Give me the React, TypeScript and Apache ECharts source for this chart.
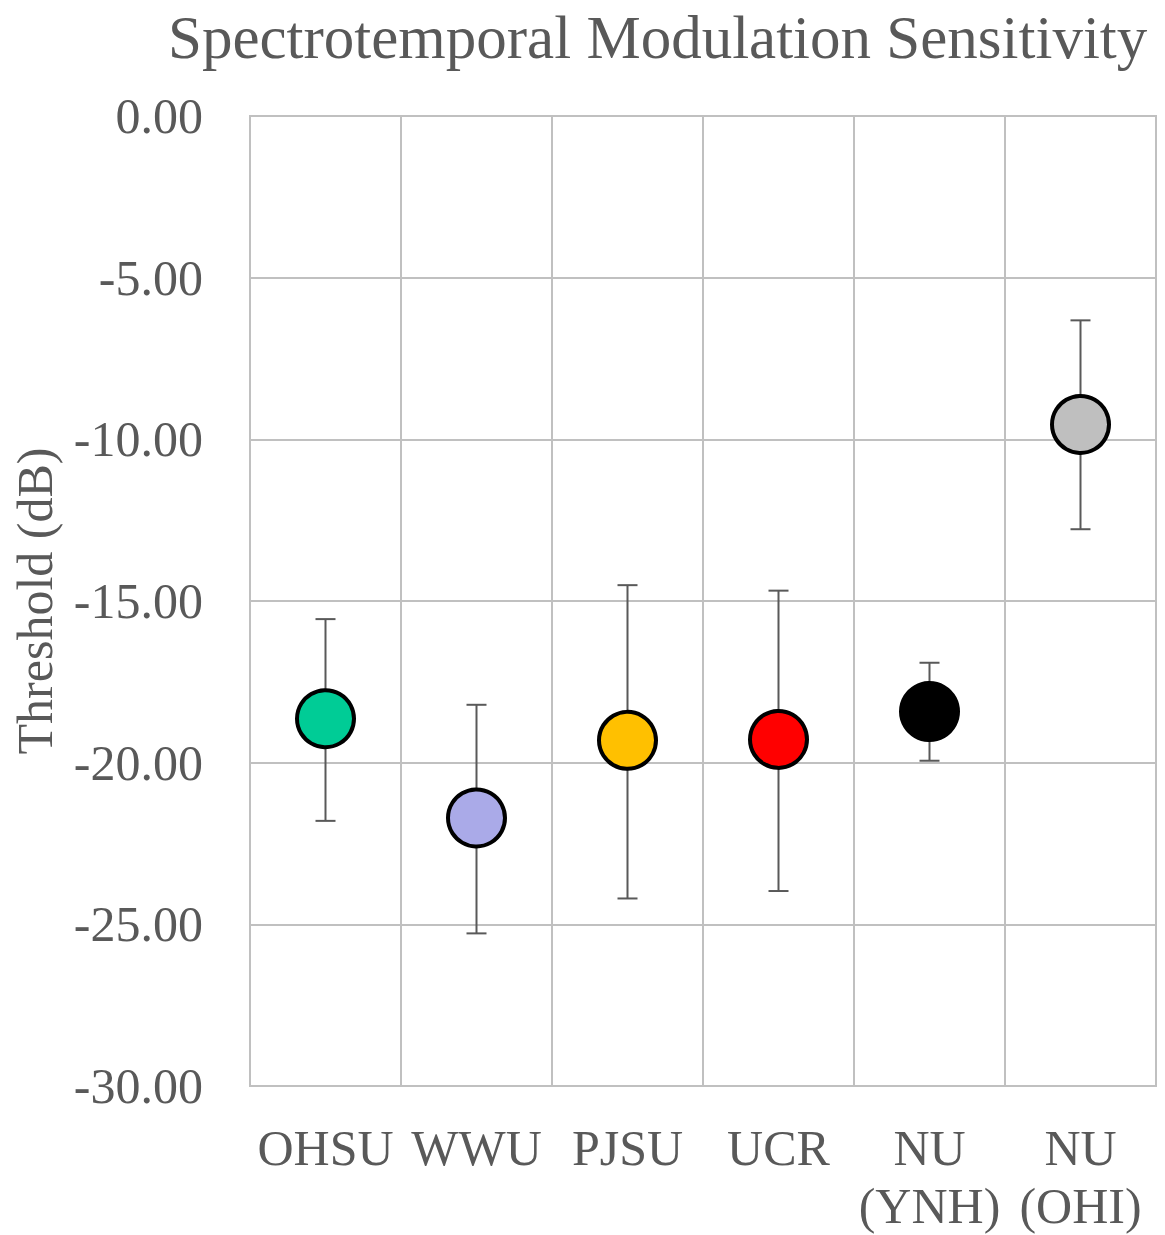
import React, { useEffect, useRef } from "react";
import * as echarts from "echarts";

const categories = ["OHSU", "WWU", "PJSU", "UCR", "NU\n(YNH)", "NU\n(OHI)"];
const means = [-18.64, -21.71, -19.31, -19.28, -18.42, -9.54];
const upper = [-15.56, -18.21, -14.51, -14.68, -16.91, -6.32];
const lower = [-21.8, -25.28, -24.2, -23.97, -19.94, -12.78];
const colors = ["#00cc96", "#aaaae8", "#ffc000", "#ff0000", "#000000", "#bfbfbf"];

const FONT = "'Liberation Serif', 'Times New Roman', serif";
const TEXT = "#595959";

export default function App() {
  const ref = useRef<HTMLDivElement>(null);
  useEffect(() => {
    if (!ref.current) return;
    const chart = echarts.init(ref.current, null, { renderer: "svg" });
    const errData = categories.map((_, i) => [i, lower[i], upper[i]]);
    chart.setOption({
      animation: false,
      backgroundColor: "#ffffff",
      title: {
        text: "Spectrotemporal Modulation Sensitivity",
        left: 163,
        top: 2,
        textStyle: { fontFamily: FONT, fontSize: 61, fontWeight: "normal", color: TEXT },
      },
      grid: {
        left: 250,
        right: 9,
        top: 116,
        bottom: 147,
        show: true,
        borderColor: "#c0c0c0",
        borderWidth: 2,
      },
      xAxis: {
        type: "category",
        data: categories,
        boundaryGap: true,
        axisLine: { show: true, lineStyle: { color: "#c0c0c0", width: 2 } },
        axisTick: { show: false },
        splitLine: { show: true, lineStyle: { color: "#c0c0c0", width: 2 } },
        axisLabel: {
          fontFamily: FONT,
          fontSize: 50,
          color: TEXT,
          margin: 33,
          lineHeight: 58,
          interval: 0,
        },
      },
      yAxis: {
        type: "value",
        min: -30,
        max: 0,
        interval: 5,
        name: "Threshold (dB)",
        nameLocation: "middle",
        nameGap: 190,
        nameTextStyle: { fontFamily: FONT, fontSize: 50, color: TEXT },
        axisLine: { show: false },
        axisTick: { show: false },
        splitLine: { show: true, lineStyle: { color: "#c0c0c0", width: 2 } },
        axisLabel: {
          fontFamily: FONT,
          fontSize: 50,
          color: TEXT,
          margin: 47,
          formatter: (v: number) => v.toFixed(2),
        },
      },
      series: [
        {
          type: "custom",
          z: 2,
          data: errData,
          renderItem: (params: any, api: any) => {
            const x = api.value(0);
            const lo = api.coord([x, api.value(1)]);
            const hi = api.coord([x, api.value(2)]);
            const cap = 10;
            const style = { stroke: "#595959", lineWidth: 2 };
            return {
              type: "group",
              children: [
                { type: "line", shape: { x1: lo[0], y1: lo[1], x2: hi[0], y2: hi[1] }, style },
                { type: "line", shape: { x1: lo[0] - cap, y1: lo[1], x2: lo[0] + cap, y2: lo[1] }, style },
                { type: "line", shape: { x1: hi[0] - cap, y1: hi[1], x2: hi[0] + cap, y2: hi[1] }, style },
              ],
            };
          },
        },
        {
          type: "scatter",
          z: 3,
          symbol: "circle",
          symbolSize: 57,
          itemStyle: { opacity: 1 },
          data: means.map((v, i) => ({
            value: [i, v],
            itemStyle: { color: colors[i], borderColor: "#000000", borderWidth: 4, opacity: 1 },
          })),
        },
      ],
    });
    return () => chart.dispose();
  }, []);
  return (
    <div
      ref={ref}
      style={{ position: "fixed", left: 0, top: 0, width: 1165, height: 1235 }}
    />
  );
}
